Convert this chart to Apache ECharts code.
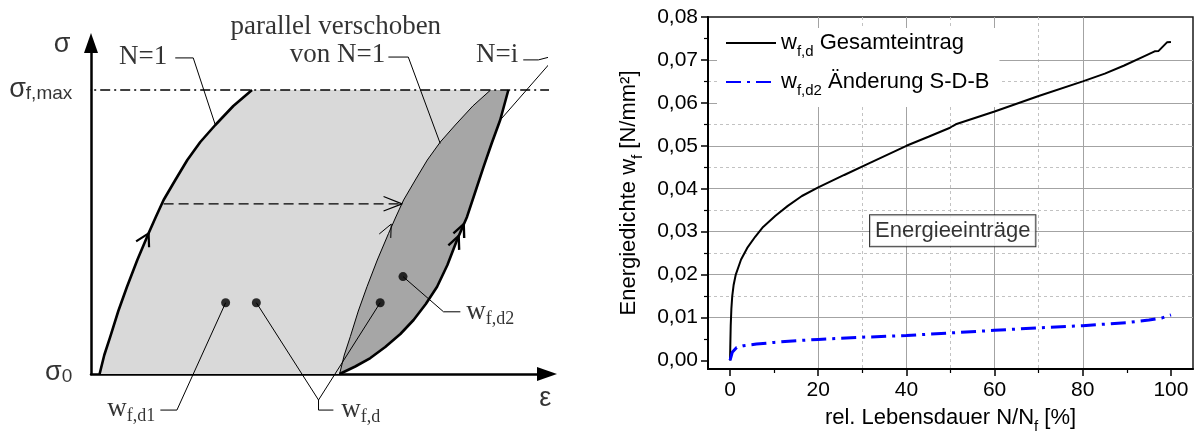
<!DOCTYPE html>
<html>
<head>
<meta charset="utf-8">
<script src="https://cdn.jsdelivr.net/npm/echarts@6/dist/echarts.min.js"></script>
<style>
html,body{margin:0;padding:0;background:#ffffff;}
#chart{width:1198px;height:439px;}
</style>
</head>
<body>
<div id="chart"></div>
<script>
// ================= Right panel: measured data =================
const lifeTotal = [0, 0.05, 0.15, 0.3, 0.5, 0.8, 1.3, 2.5, 3.9, 5.7, 7.5, 10.3, 13.1, 16.3, 20, 25.9, 31.5, 40, 45, 49.9, 50.5, 51.2, 60, 70, 80, 85, 89.4, 94, 96.3, 97.2, 99.1, 100];
const wTotal    = [0, 0.003, 0.008, 0.012, 0.015, 0.0175, 0.020, 0.0235, 0.0262, 0.0288, 0.0311, 0.0337, 0.0360, 0.0383, 0.0403, 0.0432, 0.0459, 0.0500, 0.0521, 0.0542, 0.0546, 0.0550, 0.0580, 0.0616, 0.0650, 0.0668, 0.0687, 0.0709, 0.0720, 0.0721, 0.0741, 0.0742];
const lifeSDB = [0, 0.5, 1.5, 3, 6, 10, 15, 20, 30, 40, 50, 60, 70, 80, 90, 95, 98, 100];
const wSDB    = [0, 0.0019, 0.0030, 0.0034, 0.0038, 0.0042, 0.0046, 0.0049, 0.0054, 0.0058, 0.0064, 0.0070, 0.0076, 0.0081, 0.0088, 0.0094, 0.0099, 0.0106];
const xMajorTicks = [0, 20, 40, 60, 80, 100];
const xMinorTicks = [10, 30, 50, 70, 90];
const yMajorTicks = [0, 0.01, 0.02, 0.03, 0.04, 0.05, 0.06, 0.07, 0.08];
const yMinorTicks = [0.005, 0.015, 0.025, 0.035, 0.045, 0.055, 0.065, 0.075];
const seriesNames = ['Gesamteintrag', 'Änderung S-D-B'];
const legendLabels = ['{w|w}{sub|f,d}{w| Gesamteintrag}', '{w|w}{sub|f,d2}{w| Änderung S-D-B}'];
const boxText = 'Energieeinträge';
const boxAnchor = [50.5, 0.0302];
const xTitle = '{m|rel. Lebensdauer N/N}{sub|f}{m| [%]}';
const yTitle = '{m|Energiedichte w}{sub|f}{m| [N/mm²]}';

// ================= Left panel: schematic (ε, σ normalised) =================
const n1Eps   = [0.0358, 0.0554, 0.0804, 0.1138, 0.150, 0.1929, 0.240, 0.270, 0.3025, 0.3513, 0.4013, 0.4554, 0.5179, 0.5929, 0.6708];
const n1Sig   = [0, 0.0669, 0.1313, 0.2218, 0.3074, 0.4014, 0.4954, 0.5528, 0.6127, 0.6831, 0.7535, 0.8169, 0.8768, 0.9437, 1.0];
const shiftEps = [1.0358, 1.0554, 1.0804, 1.1138, 1.150, 1.1929, 1.240, 1.270, 1.3025, 1.3513, 1.4013, 1.4554, 1.5179, 1.5910, 1.6650];
const shiftSig = [0, 0.0669, 0.1313, 0.2218, 0.3074, 0.4014, 0.4954, 0.5528, 0.6127, 0.6831, 0.7535, 0.8169, 0.8768, 0.9437, 1.0];
const niEps   = [1.0358, 1.101, 1.164, 1.226, 1.289, 1.344, 1.395, 1.442, 1.485, 1.525, 1.567, 1.601, 1.636, 1.670, 1.705, 1.739];
const niSig   = [0, 0.0264, 0.0563, 0.0951, 0.1408, 0.1901, 0.2465, 0.3074, 0.3838, 0.4718, 0.5539, 0.6408, 0.7299, 0.8134, 0.8944, 1.0];
const sigmaMaxEps = [-0.045, 1.913];
const sigmaMaxSig = [1, 1];
const shiftArrowEps = [0.3025, 1.296];
const shiftArrowSig = [0.599, 0.599];
const shiftArrowHeadEps = [1.219, 1.296, 1.219];
const shiftArrowHeadSig = [0.625, 0.599, 0.574];
const n1ChevEps = [0.188, 0.240, 0.242];
const n1ChevSig = [0.467, 0.495, 0.446];
const shChevEps = [1.201, 1.251, 1.249];
const shChevSig = [0.493, 0.528, 0.479];
const niChev1Eps = [1.510, 1.553, 1.555];
const niChev1Sig = [0.495, 0.528, 0.479];
const niChev2Eps = [1.489, 1.532, 1.534];
const niChev2Sig = [0.453, 0.486, 0.437];
const leadN1Eps = [0.351, 0.426, 0.518];
const leadN1Sig = [1.113, 1.113, 0.877];
const leadVonEps = [1.239, 1.322, 1.455];
const leadVonSig = [1.116, 1.116, 0.812];
const leadNiEps = [1.801, 1.864, 1.942, 1.705];
const leadNiSig = [1.106, 1.106, 1.123, 0.894];
const leadD1Eps = [0.561, 0.358, 0.289];
const leadD1Sig = [0.251, -0.127, -0.127];
const leadDEps = [0.689, 0.948, 1.205];
const leadDSig = [0.251, -0.0915, 0.251];
const leadD2Eps = [0.948, 0.948, 1.010];
const leadD2Sig = [-0.0915, -0.127, -0.127];
const leadWd2Eps = [1.300, 1.469, 1.539];
const leadWd2Sig = [0.343, 0.219, 0.219];
const dotEps = [0.561, 0.689, 1.205, 1.300];
const dotSig = [0.251, 0.251, 0.251, 0.343];
const labelTexts = ['{s|σ}', '{s|σ}{ss|f,max}', '{s|σ}{ss|0}', '{s|ε}', '{t|parallel verschoben}', '{t|N=1}', '{t|von N=1}', '{t|N=i}', '{w|w}{ws|f,d1}', '{w|w}{ws|f,d}', '{w|w}{ws|f,d2}'];
const labelEps = [-0.120, -0.078, -0.078, 1.893, 1.020, 0.318, 1.226, 1.780, 0.268, 1.043, 1.564];
const labelSig = [1.1535, 0.9951, 0.0007, -0.0919, 1.2173, 1.1116, 1.1176, 1.1176, -0.1268, -0.1313, 0.2137];
const labelAlign = ['center', 'right', 'right', 'center', 'center', 'right', 'right', 'right', 'right', 'left', 'left'];

// ================= helpers =================
const SANS = '"Liberation Sans", Arial, sans-serif';
const SERIF = '"Liberation Serif", "Times New Roman", serif';
const zip = (a, b) => a.map((v, i) => [v, b[i]]);
const fmtY = v => {
  const ok = yMajorTicks.some(t => Math.abs(t - v) < 1e-9);
  return ok ? v.toFixed(2).replace('.', ',') : '';
};
const fmtX = v => (xMajorTicks.indexOf(Math.round(v)) >= 0 && Math.abs(v - Math.round(v)) < 1e-9) ? String(Math.round(v)) : '';

function schemLine(eps, sig, width, type) {
  return {
    type: 'line', xAxisIndex: 0, yAxisIndex: 0, data: zip(eps, sig),
    symbol: 'none', clip: false, silent: true, z: 5,
    lineStyle: { color: '#000', width: width, type: type || 'solid', cap: 'butt', join: 'round' }
  };
}
function schemPolygon(points, color) {
  return {
    type: 'custom', coordinateSystem: 'cartesian2d', xAxisIndex: 0, yAxisIndex: 0,
    data: [[0, 0]], silent: true, z: 1, clip: false,
    renderItem: (params, api) => ({
      type: 'polygon',
      shape: { points: points.map(p => api.coord(p)) },
      style: { fill: color, stroke: null }
    })
  };
}

const n1Pts = zip(n1Eps, n1Sig);
const shiftPts = zip(shiftEps, shiftSig);
const niPts = zip(niEps, niSig);
const lightPoly = n1Pts.concat(shiftPts.slice().reverse());
const darkPoly = shiftPts.concat(niPts.slice().reverse());

const labelRich = {
  s: { fontFamily: SANS, fontSize: 27, color: '#000', verticalAlign: 'top', lineHeight: 30 },
  ss: { fontFamily: SANS, fontSize: 19, color: '#000', verticalAlign: 'top', lineHeight: 19, padding: [8, 0, 0, 0] },
  t: { fontFamily: SERIF, fontSize: 27, color: '#000', verticalAlign: 'top', lineHeight: 30 },
  w: { fontFamily: SERIF, fontSize: 27, color: '#000', verticalAlign: 'top', lineHeight: 30 },
  ws: { fontFamily: SERIF, fontSize: 18, color: '#000', verticalAlign: 'top', lineHeight: 18, padding: [12, 0, 0, 0] }
};
const labelData = labelTexts.map((t, i) => ({
  value: [labelEps[i], labelSig[i]],
  label: { formatter: t, align: labelAlign[i] }
}));

const nameRich = {
  m: { fontFamily: SANS, fontSize: 22, color: '#000', verticalAlign: 'top', lineHeight: 26 },
  sub: { fontFamily: SANS, fontSize: 15, color: '#000', verticalAlign: 'top', lineHeight: 15, padding: [12, 0, 0, 0] }
};
const legendRich = {
  w: { fontFamily: SANS, fontSize: 22, color: '#000', verticalAlign: 'top', lineHeight: 22 },
  sub: { fontFamily: SANS, fontSize: 15, color: '#000', verticalAlign: 'top', lineHeight: 15, padding: [12, 0, 0, 0] }
};

const chart = echarts.init(document.getElementById('chart'), null, { renderer: 'canvas' });
const option = {
  animation: false,
  backgroundColor: '#ffffff',
  grid: [
    { left: 91, top: 43, width: 456, height: 331, show: false },
    { left: 708, top: 17, right: 5, bottom: 62, show: true, borderColor: '#1a1a1a', borderWidth: 1.5, backgroundColor: 'transparent' }
  ],
  xAxis: [
    { gridIndex: 0, type: 'value', min: 0, max: 1.9,
      axisLine: { show: true, onZero: false, symbol: ['none', 'triangle'], symbolSize: [14, 20], lineStyle: { color: '#000', width: 2.5 } },
      axisTick: { show: false }, axisLabel: { show: false }, splitLine: { show: false } },
    { gridIndex: 1, type: 'value', min: -5, max: 105, splitNumber: 11, position: 'bottom', z: 0,
      axisLine: { show: false, onZero: false },
      axisTick: { show: true, length: 4, customValues: xMinorTicks, lineStyle: { color: '#000', width: 1.2 } },
      axisLabel: { show: false, customValues: xMinorTicks },
      splitLine: { show: true, showMinLine: false, showMaxLine: false, lineStyle: { color: '#c2c2c2', width: 1, type: [3, 3] } } },
    { gridIndex: 1, type: 'value', min: -5, max: 105, splitNumber: 5, position: 'bottom', z: 1,
      axisLine: { show: true, onZero: false, lineStyle: { color: '#000', width: 2 } },
      axisTick: { show: true, length: 7, customValues: xMajorTicks, lineStyle: { color: '#000', width: 1.5 } },
      axisLabel: { show: true, customValues: xMajorTicks, margin: 11, fontFamily: SANS, fontSize: 21, color: '#000', formatter: fmtX },
      splitLine: { show: true, showMinLine: false, showMaxLine: false, lineStyle: { color: '#a3a3a3', width: 1 } },
      name: xTitle, nameLocation: 'middle', nameGap: 38,
      nameTextStyle: { fontFamily: SANS, fontSize: 22, color: '#000', rich: nameRich } }
  ],
  yAxis: [
    { gridIndex: 0, type: 'value', min: 0, max: 1.1655,
      axisLine: { show: true, onZero: false, symbol: ['none', 'triangle'], symbolSize: [14, 20], lineStyle: { color: '#000', width: 2.5 } },
      axisTick: { show: false }, axisLabel: { show: false }, splitLine: { show: false } },
    { gridIndex: 1, type: 'value', min: -0.002, max: 0.08, splitNumber: 16, position: 'left', z: 0,
      axisLine: { show: false, onZero: false },
      axisTick: { show: true, length: 4, customValues: yMinorTicks, lineStyle: { color: '#000', width: 1.2 } },
      axisLabel: { show: false, customValues: yMinorTicks },
      splitLine: { show: true, showMinLine: false, showMaxLine: false, lineStyle: { color: '#c2c2c2', width: 1, type: [3, 3] } } },
    { gridIndex: 1, type: 'value', min: -0.002, max: 0.08, splitNumber: 8, position: 'left', z: 1,
      axisLine: { show: true, onZero: false, lineStyle: { color: '#000', width: 2 } },
      axisTick: { show: true, length: 7, customValues: yMajorTicks, lineStyle: { color: '#000', width: 1.5 } },
      axisLabel: { show: true, customValues: yMajorTicks, margin: 10, fontFamily: SANS, fontSize: 21, color: '#000', formatter: fmtY },
      splitLine: { show: true, showMinLine: false, showMaxLine: false, lineStyle: { color: '#a3a3a3', width: 1 } },
      name: yTitle, nameLocation: 'middle', nameGap: 64,
      nameTextStyle: { fontFamily: SANS, fontSize: 22, color: '#000', rich: nameRich } }
  ],
  legend: {
    data: seriesNames, orient: 'vertical', left: 717, top: 28, z: 6,
    backgroundColor: '#ffffff', padding: [4, 10, 9, 8], itemWidth: 50, itemHeight: 14, itemGap: 12,
    selectedMode: false,
    itemStyle: { opacity: 0, borderWidth: 0 },
    formatter: name => legendLabels[seriesNames.indexOf(name)],
    textStyle: { fontFamily: SANS, fontSize: 22, color: '#000', rich: legendRich }
  },
  series: [
    schemPolygon(lightPoly, '#d9d9d9'),
    schemPolygon(darkPoly, '#a6a6a6'),
    schemLine(sigmaMaxEps, sigmaMaxSig, 1.3, [10, 4, 2, 4]),
    schemLine(n1Eps, n1Sig, 2.6),
    schemLine(shiftEps, shiftSig, 1),
    schemLine(niEps, niSig, 2.6),
    schemLine(shiftArrowEps, shiftArrowSig, 1.3, [10, 5]),
    schemLine(shiftArrowHeadEps, shiftArrowHeadSig, 1.2),
    schemLine(n1ChevEps, n1ChevSig, 2.2),
    schemLine(shChevEps, shChevSig, 1),
    schemLine(niChev1Eps, niChev1Sig, 2.4),
    schemLine(niChev2Eps, niChev2Sig, 2.4),
    schemLine(leadN1Eps, leadN1Sig, 1),
    schemLine(leadVonEps, leadVonSig, 1),
    schemLine(leadNiEps, leadNiSig, 1),
    schemLine(leadD1Eps, leadD1Sig, 1),
    schemLine(leadDEps, leadDSig, 1),
    schemLine(leadD2Eps, leadD2Sig, 1),
    schemLine(leadWd2Eps, leadWd2Sig, 1),
    { type: 'scatter', xAxisIndex: 0, yAxisIndex: 0, data: zip(dotEps, dotSig), symbol: 'circle', symbolSize: 9,
      itemStyle: { color: '#000' }, silent: true, clip: false, z: 6 },
    { type: 'scatter', xAxisIndex: 0, yAxisIndex: 0, data: labelData, symbolSize: 0, silent: true, clip: false, z: 7,
      label: { show: true, position: 'inside', verticalAlign: 'middle', color: '#000', rich: labelRich } },
    // right panel
    { name: seriesNames[0], type: 'line', xAxisIndex: 2, yAxisIndex: 2, data: zip(lifeTotal, wTotal),
      symbol: 'none', smooth: false, z: 3, lineStyle: { color: '#000', width: 2 }, itemStyle: { color: '#000' } },
    { name: seriesNames[1], type: 'line', xAxisIndex: 2, yAxisIndex: 2, data: zip(lifeSDB, wSDB),
      symbol: 'none', smooth: false, z: 3, lineStyle: { color: '#0000ff', width: 3, type: [15, 6, 3, 6] }, itemStyle: { color: '#0000ff' } },
    { name: 'box', type: 'scatter', xAxisIndex: 2, yAxisIndex: 2, data: [boxAnchor], symbolSize: 0, silent: true, z: 5,
      label: { show: true, position: 'inside', formatter: boxText, fontFamily: SANS, fontSize: 22, color: '#000',
        backgroundColor: '#ffffff', borderColor: '#000', borderWidth: 1, padding: [5, 5, 4, 5] } }
  ]
};
chart.setOption(option);
</script>
</body>
</html>
